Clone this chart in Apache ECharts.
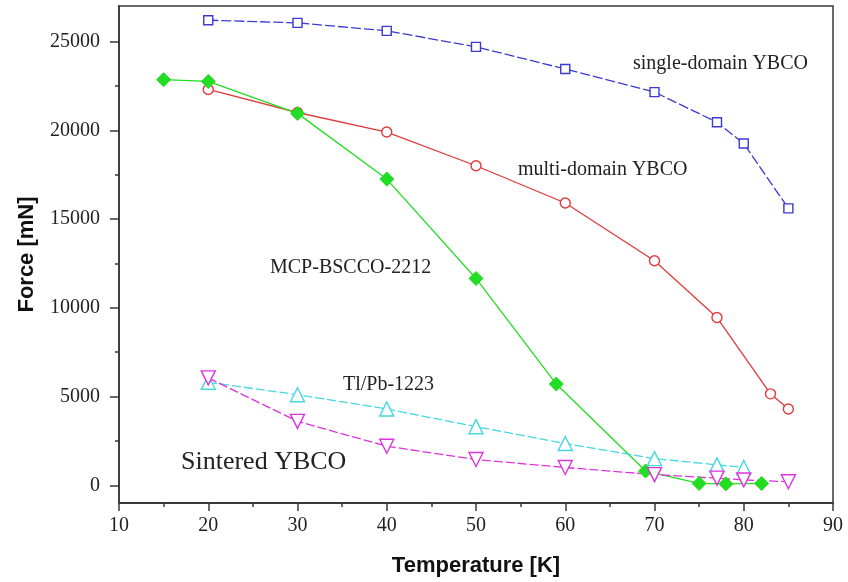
<!DOCTYPE html>
<html>
<head>
<meta charset="utf-8">
<script src="https://cdn.jsdelivr.net/npm/echarts@6/dist/echarts.min.js"></script>
<style>html,body{margin:0;padding:0;background:#fff}#c{width:848px;height:582px}</style>
</head>
<body>
<div id="c"></div>
<script>
// ---- data ----
const singleT = [20, 30, 40, 50, 60, 70, 77, 80, 85];
const singleF = [26200, 26050, 25600, 24700, 23450, 22150, 20450, 19250, 15600];

const multiT = [20, 30, 40, 50, 60, 70, 77, 83, 85];
const multiF = [22300, 21000, 19900, 18000, 15900, 12650, 9450, 5150, 4300];

const bsccoT = [15, 20, 30, 40, 50, 59, 69, 75, 78, 82];
const bsccoF = [22850, 22750, 20950, 17250, 11650, 5700, 800, 100, 80, 100];

const tlpbT = [20, 30, 40, 50, 60, 70, 77, 80];
const tlpbF = [5800, 5100, 4300, 3300, 2350, 1500, 1150, 1000];

const sintT = [20, 30, 40, 50, 60, 70, 77, 80, 85];
const sintF = [6050, 3600, 2200, 1450, 1000, 600, 400, 300, 200];

const yMajorTicks = [0, 5000, 10000, 15000, 20000, 25000];
const yMinorTicks = [2500, 7500, 12500, 17500, 22500];

const annotations = [
  { text: 'single-domain YBCO', x: 633, cy: 64, size: 20 },
  { text: 'multi-domain YBCO', x: 518, cy: 170, size: 20 },
  { text: 'MCP-BSCCO-2212', x: 270, cy: 268, size: 20 },
  { text: 'Tl/Pb-1223', x: 343, cy: 385, size: 20 },
  { text: 'Sintered YBCO', x: 181, cy: 462, size: 26 }
];

const zip = (a, b) => a.map((v, i) => [v, b[i]]);

const chart = echarts.init(document.getElementById('c'));
const serif = 'Liberation Serif';
const axisColor = '#3a3a3a';

function mkSeries(name, T, F, color, symbol, size, dash, filled, rotate) {
  return {
    name, type: 'line', data: zip(T, F),
    symbol, symbolSize: size, symbolRotate: rotate || 0,
    showSymbol: true,
    lineStyle: { color, width: 1.3, type: dash || 'solid' },
    itemStyle: filled ? { color, borderColor: color } : { color: '#fff', borderColor: color, borderWidth: 1.4 },
    emphasis: { disabled: true },
    z: 3
  };
}

chart.setOption({
  animation: false,
  backgroundColor: '#fff',
  grid: { left: 119, right: 15, top: 6, bottom: 79, show: true, borderColor: axisColor, borderWidth: 1.5, backgroundColor: 'transparent' },
  xAxis: {
    type: 'value', min: 10, max: 90, interval: 10,
    name: 'Temperature [K]', nameLocation: 'middle', nameGap: 52,
    nameTextStyle: { fontFamily: 'Liberation Sans', fontWeight: 'bold', fontSize: 22, color: '#111' },
    axisLine: { show: true, onZero: false, lineStyle: { color: axisColor, width: 1.8 } },
    axisTick: { show: true, inside: false, length: 8, lineStyle: { color: axisColor, width: 1.5 } },
    minorTick: { show: true, splitNumber: 2, length: 4, lineStyle: { color: axisColor, width: 1.5 } },
    axisLabel: { fontFamily: serif, fontSize: 20, color: '#222', margin: 13 },
    splitLine: { show: false }
  },
  yAxis: [{
    type: 'value', min: -1000, max: 27000,
    name: 'Force [mN]', nameLocation: 'middle', nameGap: 81, nameRotate: 90,
    nameTextStyle: { fontFamily: 'Liberation Sans', fontWeight: 'bold', fontSize: 22, color: '#111' },
    axisLine: { show: true, onZero: false, lineStyle: { color: axisColor, width: 1.8 } },
    axisTick: { show: true, length: 9, customValues: yMajorTicks, lineStyle: { color: axisColor, width: 1.5 } },
    axisLabel: { fontFamily: serif, fontSize: 20, color: '#222', margin: 19, customValues: yMajorTicks, formatter: v => String(v) },
    splitLine: { show: false }
  }, {
    type: 'value', min: -1000, max: 27000, position: 'left',
    axisLine: { show: false, onZero: false },
    axisTick: { show: true, length: 4, customValues: yMinorTicks, lineStyle: { color: axisColor, width: 1.5 } },
    axisLabel: { show: false },
    splitLine: { show: false }
  }],
  series: [
    mkSeries('single-domain YBCO', singleT, singleF, '#3a3ad2', 'rect', 9, [10, 3], false),
    mkSeries('multi-domain YBCO', multiT, multiF, '#e03a3a', 'circle', 10, null, false),
    mkSeries('MCP-BSCCO-2212', bsccoT, bsccoF, '#22dd22', 'diamond', 14, null, true),
    mkSeries('Tl/Pb-1223', tlpbT, tlpbF, '#44d8e0', 'triangle', 14, [9, 3], false),
    mkSeries('Sintered YBCO', sintT, sintF, '#dd33dd', 'triangle', 14, [9, 3], false, 180)
  ],
  graphic: annotations.map(a => ({
    type: 'text', x: a.x, y: a.cy,
    style: { text: a.text, fontFamily: serif, fontSize: a.size, fill: '#222', verticalAlign: 'middle' },
    z: 10
  }))
});
</script>
</body>
</html>
